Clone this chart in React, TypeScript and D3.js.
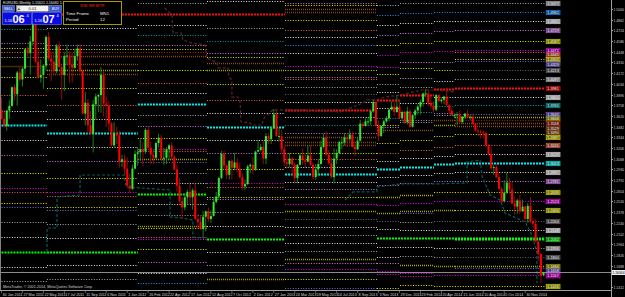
import React from "react";
import * as d3 from "d3";

// ---------- DATA ----------
const FIRST_OPEN = 13695;
const closes = [
  13580,13490,13690,13750,13990,13900,14180,14090,14230,14480,14430,14580,14810,14320,14120,14150,14270,14640,14360,14320,14200,14520,14250,14150,14390,14400,14280,14240,14390,14490,14200,13650,13790,13500,13390,13770,13870,13890,14150,13780,13750,13520,13240,13400,13370,13030,13060,12940,
  12720,12680,12940,13130,13150,13190,13160,13440,13210,13120,13080,13270,13340,13070,13080,13190,13240,13090,12930,12720,12520,12440,12570,12640,12570,12660,12290,12250,12160,12320,12390,12290,12330,12510,12580,12820,13130,12980,12860,13040,12950,13020,12940,12830,12710,12740,12970,12990,12930,13160,13180,13220,13070,
  13360,13320,13460,13640,13360,13360,13190,13020,13000,13070,12990,12820,12990,13110,13050,13030,13110,12990,12830,12930,13000,13220,13340,13120,13010,12830,13070,13140,13280,13280,13340,13320,13380,13220,13190,13300,13520,13490,13550,13550,13680,13800,13490,13360,13490,13550,13590,13700,13740,13670,13740,13590,
  13670,13540,13680,13480,13630,13690,13740,13800,13910,13910,13790,13750,13700,13890,13810,13830,13870,13760,13690,13630,13630,13640,13540,13610,13650,13600,13610,13520,13430,13420,13410,13400,13240,13130,12950,12960,12830,12680,12520,12630,12760,12670,12490,12450,12530,12390,12450,12290,12460,12260,12230,12000,
  11840,11565,11606,
];
const highs = [
  13860,13690,13700,13820,14000,14030,14200,14250,14250,14490,14520,14650,14820,14940,14480,14350,14290,14660,14700,14450,14450,14550,14580,14280,14440,14540,14450,14440,14480,14540,14550,14210,13930,13840,13680,13830,13910,13910,14250,14200,13870,13810,13540,13540,13480,13430,13120,13120,
  13080,12880,12990,13180,13220,13320,13280,13460,13490,13290,13190,13290,13390,13380,13210,13220,13260,13280,13120,12990,12820,12570,12620,12670,12740,12690,12750,12350,12340,12390,12400,12440,12400,12570,12640,12830,13170,13170,13000,13050,13060,13140,13080,13020,12880,12800,12990,13010,13090,13170,13310,13260,13300,
  13400,13400,13480,13710,13690,13460,13440,13240,13130,13140,13090,13020,13000,13140,13200,13130,13240,13240,13020,13000,13060,13300,13390,13420,13180,13080,13200,13190,13300,13350,13400,13390,13450,13420,13290,13340,13570,13540,13590,13600,13700,13830,13830,13560,13500,13570,13620,13710,13810,13810,13890,13830,
  13690,13690,13740,13710,13650,13710,13770,13830,13920,13970,13960,13880,13810,13900,13900,13850,13880,13990,13770,13730,13650,13670,13680,13620,13660,13700,13640,13650,13530,13450,13440,13440,13410,13260,13220,12990,13000,12880,12700,12790,12890,12820,12770,12580,12550,12600,12540,12460,12500,12570,12300,12290,
  12010,11850,11608,
];
const lows = [
  13575,13470,13430,13580,13740,13820,13750,14060,14000,14160,14370,14150,14520,14305,14100,14050,13970,14200,14330,14070,14140,14170,14250,13830,13940,14280,14050,14050,14230,14330,14180,13640,13500,13380,13370,13150,13570,13670,13660,13610,13480,13420,13230,13220,13260,12950,12960,12860,
  12710,12620,12660,12930,12980,13040,12970,13130,13190,13000,13000,13060,13210,13040,12990,13000,13050,13060,12920,12640,12500,12290,12400,12470,12490,12410,12280,12160,12150,12040,12130,12250,12240,12320,12490,12540,12800,12940,12800,12800,12800,12920,12880,12820,12660,12660,12730,12880,12870,12910,13150,13160,13000,
  13000,13260,13260,13450,13350,13290,13140,12970,12950,12960,12840,12750,12750,12980,12990,12950,13020,12980,12800,12800,12840,12990,13200,13110,12990,12820,12750,13000,13130,13190,13240,13220,13290,13210,13100,13180,13290,13460,13480,13490,13500,13660,13480,13300,13350,13400,13530,13550,13690,13620,13660,13580,
  13550,13520,13510,13470,13470,13580,13640,13640,13740,13860,13750,13720,13670,13680,13800,13780,13770,13750,13650,13620,13590,13500,13530,13520,13580,13590,13570,13500,13420,13360,13330,13330,13220,13120,12920,12860,12820,12670,12500,12500,12610,12620,12480,12350,12360,12360,12380,12280,12240,12240,12170,11990,
  11750,11460,11550,
];

const dateLabels = ["30 Jan 2011","27 Mar 2011","22 May 2011","17 Jul 2011","11 Sep 2011","6 Nov 2011","1 Jan 2012","26 Feb 2012","22 Apr 2012","17 Jun 2012","12 Aug 2012","7 Oct 2012","2 Dec 2012","27 Jan 2013","24 Mar 2013","19 May 2013","14 Jul 2013","8 Sep 2013","3 Nov 2013","29 Dec 2013","23 Feb 2014","20 Apr 2014","15 Jun 2014","10 Aug 2014","5 Oct 2014","30 Nov 2014"];
const dateLabelBars = [0,8,16,24,32,40,48,56,64,72,80,88,96,104,112,120,128,136,144,152,160,168,176,184,192,200];

const priceTicks = [1.5000,1.4862,1.4724,1.4586,1.4448,1.4310,1.4172,1.4034,1.3896,1.3758,1.3620,1.3482,1.3344,1.3206,1.3068,1.2930,1.2792,1.2654,1.2516,1.2378,1.2240,1.2102,1.1964,1.1826,1.1688,1.1412];
const bidPrice = 1.16064;
const askPrice = 1.16074;

// period boundaries of the S/R levels (bar index)
const levelPeriods = [0, 17.4, 52.1, 78.5, 108.3, 143.4, 152.2, 165.2, 173.2, 207.6];
// [fromPeriod, toPeriod, price, kind]
const levels: [number, number, number, string][] = [
  // A
  [0,1,1.4742,"teal"],[0,1,1.4561,"violet"],[0,1,1.4497,"yellow"],[0,1,1.4445,"salmon"],[0,1,1.4381,"gray"],[0,1,1.4264,"brown"],[0,1,1.4122,"yellow"],[0,1,1.3890,"salmon"],[0,1,1.3684,"white"],[0,1,1.3503,"cyan"],[0,1,1.3310,"white"],[0,1,1.3116,"violet"],[0,1,1.2884,"yellow"],[0,1,1.2690,"magenta"],[0,1,1.2639,"salmon"],[0,1,1.2497,"yellow"],[0,1,1.2445,"purple"],[0,1,1.2252,"gray"],[0,1,1.2058,"white"],[0,1,1.1864,"lime"],[0,1,1.1671,"white"],[0,1,1.1490,"gray"],
  // B
  [1,4,1.4935,"red"],[1,2,1.4755,"white"],[1,3,1.4535,"violet"],[1,3,1.4490,"yellow"],[1,3,1.4439,"darkred"],[1,3,1.4387,"brown"],
  [1,2,1.4290,"brown"],[1,2,1.4213,"olive"],[1,2,1.4161,"brown"],[1,2,1.3981,"yellow"],[1,2,1.3761,"salmon"],[1,2,1.3580,"white"],[1,2,1.3400,"cyan"],[1,2,1.3219,"white"],[1,2,1.3039,"violet"],[1,2,1.2819,"yellow"],[1,2,1.2639,"magenta"],[1,2,1.2587,"salmon"],[1,2,1.2445,"yellow"],[1,2,1.2406,"purple"],[1,2,1.2226,"gray"],[1,2,1.2045,"white"],[1,2,1.1864,"lime"],[1,2,1.1697,"white"],[1,2,1.1516,"gray"],
  // C
  [2,3,1.5077,"gray"],[2,3,1.4793,"white"],[2,3,1.4664,"teal"],[2,3,1.4213,"yellow"],[2,3,1.4045,"salmon"],[2,3,1.3916,"white"],[2,3,1.3774,"cyan"],[2,3,1.3632,"gray"],[2,3,1.3490,"violet"],[2,3,1.3335,"yellow"],[2,3,1.3193,"magenta"],[2,3,1.3168,"salmon"],[2,3,1.3064,"olive"],[2,3,1.3026,"purple"],[2,3,1.2884,"gray"],[2,3,1.2755,"white"],[2,3,1.2613,"lime"],[2,3,1.2484,"white"],[2,3,1.2342,"gray"],[2,3,1.2200,"olive"],[2,3,1.2174,"yellow"],[2,3,1.2058,"salmon"],[2,3,1.2032,"magenta"],[2,3,1.1903,"yellow"],[2,3,1.1735,"violet"],[2,3,1.1593,"white"],[2,3,1.1464,"blue"],
  // D
  [3,4,1.5103,"white"],[3,4,1.4755,"gray"],[3,4,1.4587,"teal"],[3,4,1.4432,"violet"],[3,4,1.4381,"yellow"],[3,4,1.4303,"brown"],[3,4,1.4213,"olive"],[3,4,1.4032,"yellow"],[3,4,1.3826,"salmon"],[3,4,1.3658,"white"],[3,4,1.3477,"cyan"],[3,4,1.3310,"white"],[3,4,1.3142,"violet"],[3,4,1.2935,"yellow"],[3,4,1.2755,"magenta"],[3,4,1.2703,"salmon"],[3,4,1.2574,"yellow"],[3,4,1.2548,"violet"],[3,4,1.2381,"gray"],[3,4,1.2200,"white"],[3,4,1.2032,"lime"],[3,4,1.1864,"white"],[3,4,1.1697,"gray"],[3,4,1.1516,"olive"],
  // E
  [4,5,1.5077,"violet"],[4,5,1.5051,"yellow"],[4,5,1.5000,"brown"],[4,5,1.4961,"brown"],[4,5,1.4858,"yellow"],[4,5,1.4729,"salmon"],[4,5,1.4639,"white"],[4,5,1.4535,"blue"],[4,5,1.4432,"white"],[4,5,1.4264,"magenta"],[4,5,1.4213,"yellow"],[4,5,1.4122,"violet"],[4,5,1.4097,"salmon"],[4,5,1.3994,"gray"],[4,5,1.3903,"dgray"],[4,5,1.3800,"white"],[4,5,1.3697,"red"],[4,5,1.3606,"white"],[4,5,1.3503,"teal"],[4,5,1.3400,"violet"],[4,5,1.3348,"brown"],[4,5,1.3284,"brown"],[4,5,1.3245,"brown"],[4,5,1.3142,"yellow"],[4,5,1.3064,"salmon"],[4,5,1.2961,"white"],[4,5,1.2871,"cyan"],[4,5,1.2768,"white"],[4,5,1.2677,"violet"],[4,5,1.2574,"yellow"],[4,5,1.2484,"magenta"],[4,5,1.2393,"olive"],[4,5,1.2290,"dgray"],[4,5,1.2187,"white"],[4,5,1.2084,"gray"],[4,5,1.1981,"white"],[4,5,1.1877,"gray"],[4,5,1.1774,"olive"],[4,5,1.1722,"violet"],[4,5,1.1645,"magenta"],[4,5,1.1516,"yellow"],[4,5,1.1400,"purple"],
  // F
  [5,6,1.5051,"gray"],[5,6,1.4922,"blue"],[5,6,1.4793,"white"],[5,6,1.4664,"violet"],[5,6,1.4535,"yellow"],[5,6,1.4406,"magenta"],[5,6,1.4251,"magenta"],[5,6,1.4161,"yellow"],[5,6,1.4032,"gray"],[5,6,1.3929,"white"],[5,6,1.3826,"red"],[5,6,1.3722,"white"],[5,6,1.3593,"teal"],[5,6,1.3503,"yellow"],[5,6,1.3477,"gray"],[5,6,1.3439,"brown"],[5,6,1.3271,"yellow"],[5,6,1.3142,"salmon"],[5,6,1.3039,"white"],[5,6,1.2935,"cyan"],[5,6,1.2832,"white"],[5,6,1.2729,"violet"],[5,6,1.2574,"olive"],[5,6,1.2471,"magenta"],[5,6,1.2368,"olive"],[5,6,1.2264,"dgray"],[5,6,1.2161,"white"],[5,9,1.2045,"lime"],[5,6,1.1929,"white"],[5,6,1.1800,"white"],[5,6,1.1722,"violet"],[5,6,1.1619,"magenta"],[5,6,1.1580,"magenta"],[5,6,1.1400,"yellow"],
  // G
  [6,7,1.5077,"gray"],[6,7,1.4948,"blue"],[6,7,1.4819,"white"],[6,7,1.4690,"violet"],[6,7,1.4561,"yellow"],[6,7,1.4445,"magenta"],[6,7,1.4316,"violet"],[6,7,1.4239,"yellow"],[6,7,1.4110,"gray"],[6,7,1.3994,"gray"],[6,7,1.3890,"red"],[6,7,1.3787,"white"],[6,7,1.3671,"teal"],[6,7,1.3568,"violet"],[6,7,1.3542,"gray"],[6,7,1.3439,"brown"],[6,7,1.3310,"yellow"],[6,7,1.3181,"salmon"],[6,7,1.3077,"white"],[6,7,1.2961,"cyan"],[6,7,1.2858,"white"],[6,7,1.2755,"violet"],[6,7,1.2600,"olive"],[6,7,1.2497,"magenta"],[6,7,1.2393,"olive"],[6,7,1.2368,"purple"],[6,7,1.2252,"gray"],[6,7,1.2148,"white"],[6,7,1.1929,"white"],[6,7,1.1813,"gray"],[6,7,1.1697,"olive"],[6,7,1.1593,"magenta"],[6,7,1.1555,"magenta"],[6,7,1.1438,"yellow"],
  // H
  [7,8,1.5077,"gray"],[7,8,1.4961,"blue"],[7,8,1.4845,"white"],[7,8,1.4716,"violet"],[7,8,1.4587,"yellow"],[7,8,1.4458,"magenta"],[7,8,1.4316,"gray"],[7,8,1.4213,"yellow"],[7,8,1.4071,"white"],[7,8,1.3968,"red"],[7,8,1.3864,"white"],[7,8,1.3748,"teal"],[7,8,1.3658,"violet"],[7,8,1.3632,"gray"],[7,8,1.3568,"brown"],[7,8,1.3503,"olive"],[7,8,1.3361,"yellow"],[7,8,1.3219,"salmon"],[7,8,1.3103,"white"],[7,8,1.3000,"cyan"],[7,8,1.2884,"white"],[7,8,1.2781,"violet"],[7,8,1.2639,"yellow"],[7,8,1.2523,"magenta"],[7,8,1.2406,"olive"],[7,8,1.2264,"dgray"],[7,8,1.2148,"white"],[7,8,1.1916,"white"],[7,8,1.1800,"gray"],[7,8,1.1684,"olive"],[7,8,1.1567,"magenta"],[7,8,1.1426,"yellow"],
];
// last period: labelled levels [price, kind]
const lastLevels: [number, string][] = [
  [1.5077,"gray"],[1.4961,"blue"],[1.4845,"white"],[1.4729,"violet"],[1.4587,"yellow"],[1.4471,"magenta"],[1.4445,"salmon"],[1.4355,"yellow"],[1.4329,"purple"],[1.4213,"dgray"],[1.4097,"gray"],[1.3981,"red"],[1.3864,"white"],[1.3761,"teal"],[1.3645,"purple"],[1.3606,"olive"],[1.3568,"darkred"],[1.3529,"brown"],[1.3490,"brown"],[1.3387,"yellow"],[1.3245,"salmon"],[1.3129,"white"],[1.3013,"cyan"],[1.2897,"white"],[1.2781,"violet"],[1.2639,"yellow"],[1.2523,"magenta"],[1.2406,"yellow"],[1.2264,"dgray"],[1.2148,"white"],[1.2032,"lime"],[1.1916,"gray"],[1.1800,"dgray"],[1.1684,"olive"],[1.1658,"purple"],[1.1567,"magenta"],[1.1426,"yellow"],
];

// step lines [barIndex, price]
const tealStep1: [number, number][] = [[17.4,1.1864],[17.4,1.2174],[21.2,1.2174],[21.2,1.2574],[30,1.2600],[30,1.2858],[46.8,1.2858],[47.6,1.2703],[64.4,1.2665],[64.4,1.2316],[68.9,1.2303],[73.1,1.2277],[73.1,1.2058],[78.5,1.2045]];
const tealStep2: [number, number][] = [[131.2,1.2535],[134.3,1.2639],[143.4,1.2639],[143.4,1.2703],[152.2,1.2742],[164.8,1.2742],[177.8,1.2755],[177.8,1.3026],[182.8,1.3052],[183.5,1.2845],[186.6,1.2600],[190.4,1.2535],[192.3,1.2368],[200,1.2252],[202.6,1.2084],[204.5,1.1852],[204.5,1.1464]];
const brownStep: [number, number][] = [[62.4,1.5013],[65.1,1.4922],[65.5,1.4690],[68.6,1.4690],[69.3,1.4600],[72.8,1.4561],[77.7,1.4535],[78.5,1.4368],[82.3,1.4303],[82.7,1.4239],[86.5,1.4239],[86.9,1.4122],[88,1.4084],[88,1.3864],[90.3,1.3864],[91.1,1.3800],[91.5,1.3542],[94.9,1.3529],[95.7,1.3503],[99.5,1.3503],[99.9,1.3568],[100.6,1.3606],[103.7,1.3697],[114,1.3697],[129.3,1.3671],[138.1,1.3787],[139.2,1.3826],[143.4,1.3826],[146.5,1.3864],[152.2,1.3890],[160.6,1.3955],[164.8,1.3955],[173.2,1.3929]];

// ---------- STYLES ----------
const kindStyle: Record<string, { c: string; w: number; d: string; box: string }> = {
  cyan: { c: "#00f0f0", w: 2, d: "2,1", box: "#008b8b" },
  lime: { c: "#00ff00", w: 2, d: "2,1", box: "#008000" },
  red: { c: "#ff1010", w: 2, d: "2,1", box: "#800000" },
  white: { c: "#e6e6e6", w: 1, d: "1,1.6", box: "#909090" },
  gray: { c: "#a6a6a6", w: 1, d: "1,1.6", box: "#7a7a7a" },
  dgray: { c: "#6a6a6a", w: 1, d: "1,1.6", box: "#404040" },
  yellow: { c: "#e8e800", w: 1, d: "1,1.6", box: "#7a7a00" },
  olive: { c: "#a8a800", w: 1.6, d: "1,1", box: "#6b6b00" },
  violet: { c: "#c878e0", w: 1, d: "1,1.6", box: "#6e3e80" },
  purple: { c: "#7d62d6", w: 1, d: "1,1.6", box: "#47387a" },
  magenta: { c: "#f000f0", w: 1, d: "1,1.6", box: "#800080" },
  salmon: { c: "#e0684c", w: 1, d: "1,1.6", box: "#8b3a2a" },
  brown: { c: "#8a4a1c", w: 1.6, d: "1,1", box: "#5a3010" },
  teal: { c: "#00a0a0", w: 1, d: "1,1.6", box: "#006060" },
  blue: { c: "#2090ff", w: 1, d: "1,1.6", box: "#104e8b" },
  darkred: { c: "#b02020", w: 1, d: "1,1.6", box: "#601010" },
};

const FONT = "'Liberation Sans', Arial, sans-serif";

export default function App() {
  const x = d3.scaleLinear().domain([0, 207]).range([1.5, 543.5]);
  const y = d3.scaleLinear().domain([1.1374, 1.5116]).range([290, 0]);
  const bars = closes.map((c, i) => ({
    o: (i ? closes[i - 1] : FIRST_OPEN) / 1e4,
    h: highs[i] / 1e4,
    l: lows[i] / 1e4,
    c: c / 1e4,
  }));
  const line = d3.line<[number, number]>().x((d) => x(d[0])).y((d) => y(d[1]));
  const px = (p: number) => Math.round(y(p)) + 0.5;

  // label boxes of the last period, pushed apart so they do not overlap
  const sorted = lastLevels.map(([p, k]) => ({ p, k, ly: px(p) })).sort((a, b) => a.ly - b.ly);
  for (let i = 1; i < sorted.length; i++) {
    if (sorted[i].ly - sorted[i - 1].ly < 4.6) sorted[i].ly = sorted[i - 1].ly + 4.6;
  }
  const boxX = x(levelPeriods[9]) + 1;

  return (
    <svg width={625} height={297} style={{ position: "fixed", left: 0, top: 0, background: "#000" }} fontFamily={FONT}>
      <rect x={0} y={0} width={625} height={297} fill="#000" />
      <defs>
        <clipPath id="plot"><rect x={1} y={0} width={610} height={290} /></clipPath>
      </defs>
      <g clipPath="url(#plot)">
        {levels.map(([a, b, p, k], i) => {
          const s = kindStyle[k];
          return <line key={"l" + i} x1={x(levelPeriods[a])} x2={x(levelPeriods[b])} y1={px(p)} y2={px(p)} stroke={s.c} strokeWidth={s.w} strokeDasharray={s.d} />;
        })}
        {lastLevels.map(([p, k], i) => {
          const s = kindStyle[k];
          return <line key={"ll" + i} x1={x(levelPeriods[8])} x2={x(levelPeriods[9])} y1={px(p)} y2={px(p)} stroke={s.c} strokeWidth={s.w} strokeDasharray={s.d} />;
        })}
        {sorted.map((d, i) => {
          const s = kindStyle[d.k];
          return (
            <g key={"lb" + i}>
              <rect x={boxX} y={d.ly - 2.3} width={14} height={4.6} fill={s.box} stroke={s.c} strokeWidth={0.5} />
              <text x={boxX + 7} y={d.ly + 1.2} fontSize={3.3} fill="#f0f0f0" textAnchor="middle" textLength={11.5} lengthAdjust="spacingAndGlyphs">{d.p.toFixed(4)}</text>
            </g>
          );
        })}
        <path d={line(tealStep1) || ""} fill="none" stroke="#0b5a5a" strokeWidth={1.2} strokeDasharray="3,2" />
        <path d={line(tealStep2) || ""} fill="none" stroke="#0b5a5a" strokeWidth={1.2} strokeDasharray="3,2" />
        <path d={line(brownStep) || ""} fill="none" stroke="#5c2626" strokeWidth={1.2} strokeDasharray="3,2" />
        {/* bid line */}
        <line x1={0} x2={611} y1={px(bidPrice)} y2={px(bidPrice)} stroke="#8c8c8c" strokeWidth={1} />
        {bars.map((b, i) => {
          const up = b.c >= b.o;
          const cx = x(i);
          const top = y(Math.max(b.o, b.c));
          const bot = y(Math.min(b.o, b.c));
          return (
            <g key={"b" + i}>
              <line x1={cx} x2={cx} y1={y(b.h)} y2={y(b.l)} stroke={up ? "#1f8a1f" : "#a00c0c"} strokeWidth={0.9} />
              <rect x={cx - 1} y={top} width={2} height={Math.max(1, bot - top)} fill={up ? "#32e632" : "#ff0000"} />
            </g>
          );
        })}
      </g>

      {/* axes */}
      <line x1={0.5} x2={0.5} y1={0} y2={290} stroke="#808080" />
      <line x1={611.5} x2={611.5} y1={0} y2={297} stroke="#a0a0a0" />
      <line x1={0} x2={611} y1={290.5} y2={290.5} stroke="#a0a0a0" />
      {priceTicks.map((p, i) => (
        <g key={"pt" + i}>
          <line x1={611} x2={613} y1={px(p)} y2={px(p)} stroke="#a0a0a0" />
          <text x={613.5} y={px(p) + 1.4} fontSize={3.8} fill="#d0d0d0" textLength={10.5} lengthAdjust="spacingAndGlyphs">{p.toFixed(4)}</text>
        </g>
      ))}
      <rect x={612} y={px(bidPrice) - 2.5} width={13} height={5} fill="#f0f0f0" />
      <text x={612.5} y={px(bidPrice) + 1.4} fontSize={3.8} fill="#000" textLength={12} lengthAdjust="spacingAndGlyphs">{bidPrice.toFixed(5)}</text>
      {dateLabelBars.map((bi, i) => (
        <g key={"d" + i}>
          <line x1={x(bi)} x2={x(bi)} y1={290} y2={293} stroke="#a0a0a0" strokeWidth={0.6} />
          <text x={x(bi) + 1} y={296} fontSize={3.7} fill="#d8d8d8">{dateLabels[i]}</text>
        </g>
      ))}
      <text x={3} y={288} fontSize={3.7} fill="#d0d0d0">MetaTrader, © 2001-2014, MetaQuotes Software Corp.</text>

      {/* title */}
      <text x={3} y={3.8} fontSize={3.6} fill="#e8e8e8">EURUSD,Weekly  1.15621 1.16082 1.15597 1.16064</text>

      {/* one click trading panel */}
      <rect x={2.5} y={5.5} width={12} height={6} fill="#3a5ad0" stroke="#8fa8ff" strokeWidth={0.5} />
      <text x={8.5} y={9.8} fontSize={3.6} fill="#fff" textAnchor="middle">SELL</text>
      <rect x={16.5} y={5.5} width={32} height={6} fill="#f4f4f4" stroke="#999" strokeWidth={0.5} />
      <rect x={17} y={6} width={3.5} height={5} fill="#d8d8d8" />
      <text x={18.7} y={9.9} fontSize={3.5} fill="#333" textAnchor="middle">▲</text>
      <text x={32.5} y={10} fontSize={4} fill="#222" textAnchor="middle">0.01</text>
      <rect x={49.5} y={5.5} width={12} height={6} fill="#3a5ad0" stroke="#8fa8ff" strokeWidth={0.5} />
      <text x={55.5} y={9.8} fontSize={3.6} fill="#fff" textAnchor="middle">BUY</text>
      {[bidPrice, askPrice].map((p, i) => {
        const x0 = 2.5 + i * 30;
        const s = p.toFixed(5);
        return (
          <g key={"q" + i}>
            <rect x={x0} y={12.5} width={29} height={12} fill="#0a0ae6" stroke="#6f7fff" strokeWidth={0.6} />
            <text x={x0 + 2} y={22} fontSize={4} fill="#fff">{s.slice(0, 4)}</text>
            <text x={x0 + 10} y={23} fontSize={11} fontWeight="bold" fill="#fff">{s.slice(4, 6)}</text>
            <text x={x0 + 24} y={17} fontSize={4} fill="#fff">{s.slice(6)}</text>
          </g>
        );
      })}

      {/* info box */}
      <rect x={63.5} y={1.5} width={58} height={23} fill="#000" stroke="#a89a00" strokeWidth={1} />
      <text x={92.5} y={7} fontSize={4.3} fill="#ff2020" textAnchor="middle">RSI SR MTF</text>
      <text x={66} y={14.5} fontSize={4.3} fill="#f0f0f0">Time Frame</text>
      <text x={100} y={14.5} fontSize={4.3} fill="#f0f0f0">MN1</text>
      <text x={66} y={20.5} fontSize={4.3} fill="#f0f0f0">Period</text>
      <text x={100} y={20.5} fontSize={4.3} fill="#f0f0f0">12</text>
    </svg>
  );
}
